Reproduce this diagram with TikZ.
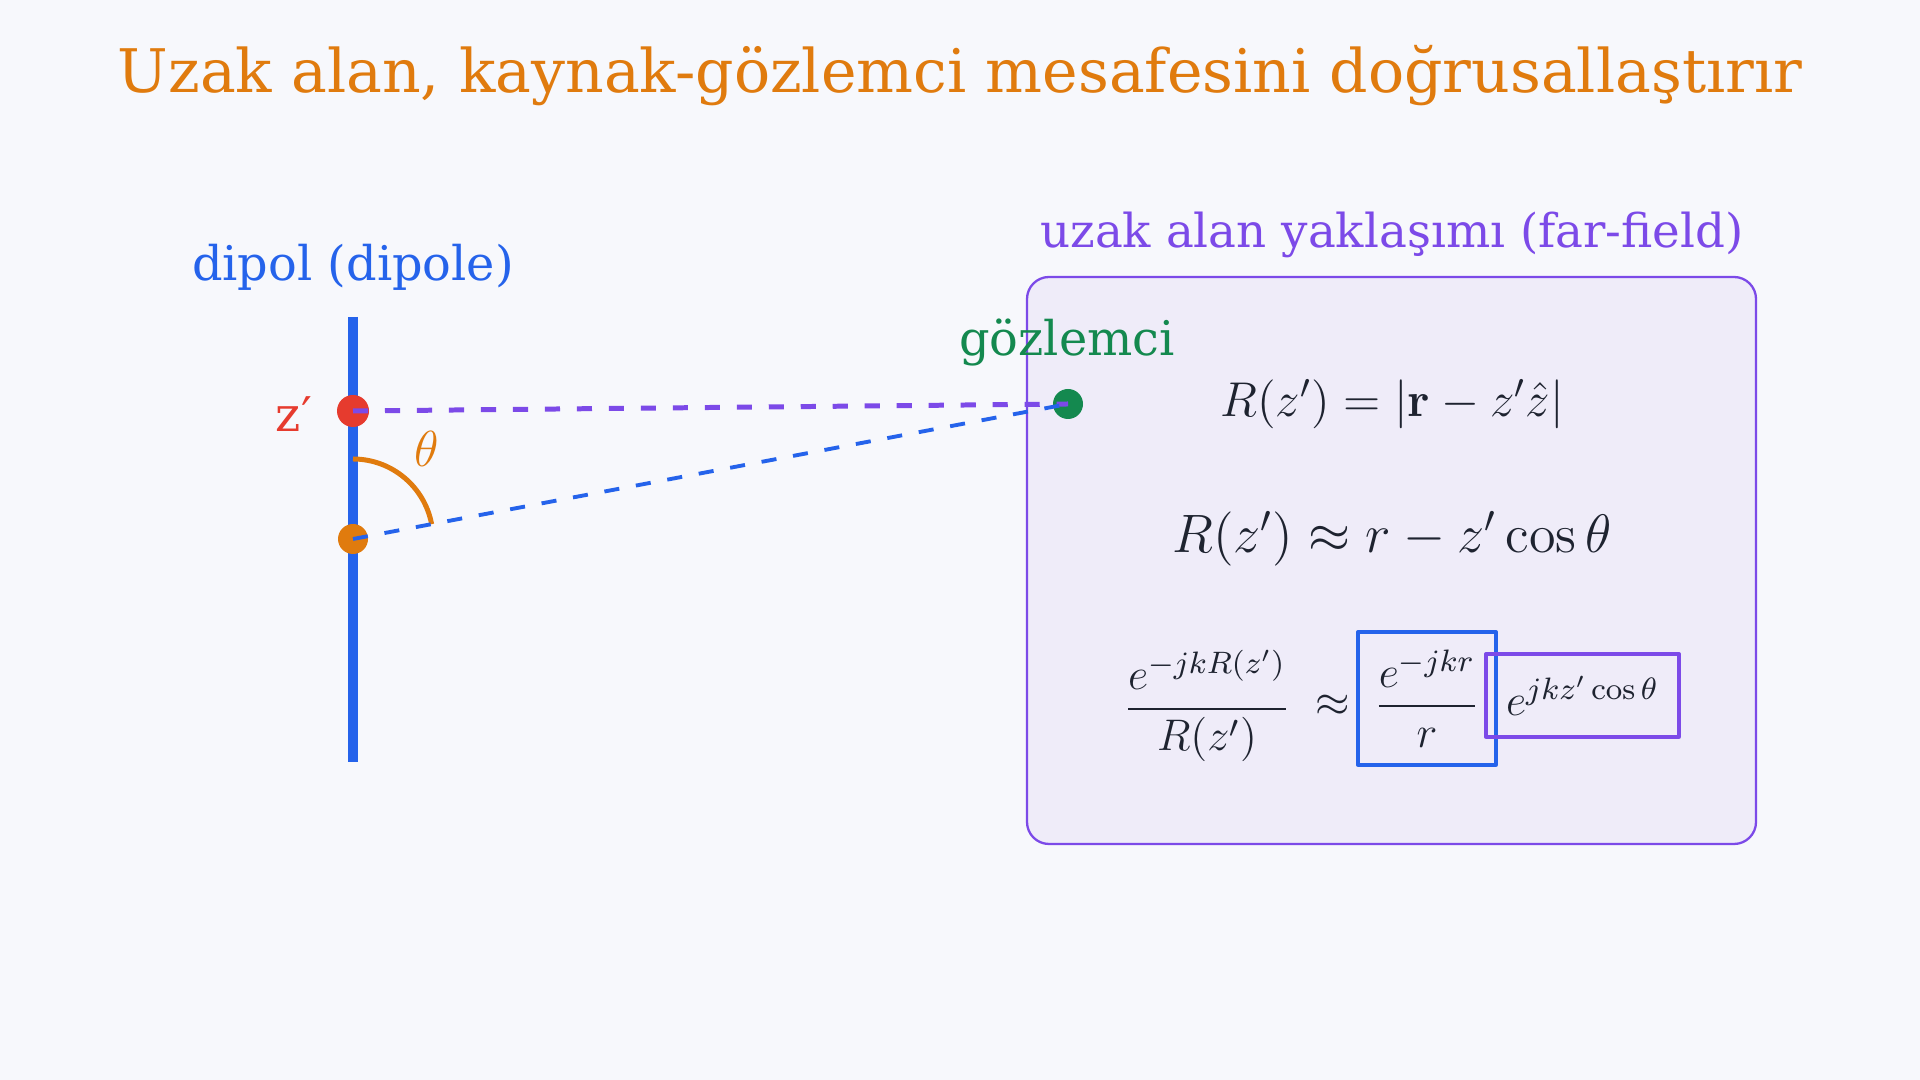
\RequirePackage{fix-cm}
\documentclass[tikz,border=0pt]{standalone}
\usepackage[no-math]{fontspec}
\setmainfont{DejaVu Serif}
\usepackage{amsmath}
\definecolor{bgC}{HTML}{F7F8FC}
\definecolor{orangeC}{HTML}{E07B0E}
\definecolor{blueC}{HTML}{2563EB}
\definecolor{redC}{HTML}{E63B2E}
\definecolor{greenC}{HTML}{14894F}
\definecolor{violetC}{HTML}{7C4AE8}
\definecolor{panelC}{HTML}{EFECF9}
\definecolor{inkC}{HTML}{1E2330}
\begin{document}
\begin{tikzpicture}[line join=round]
	\tikzset{headline/.style={text=orangeC, font=\fontsize{17.1}{20}\selectfont},
		lbl/.style={font=\fontsize{13.6}{16}\selectfont},
		dot/.style={circle, inner sep=0pt, minimum size=0.31cm},
		eq/.style={text=inkC, inner sep=0pt},
		mathbox/.style={draw, line width=0.95pt, inner sep=0pt}}
	\fill[bgC] (0,0) rectangle (19.2,10.8);
	\useasboundingbox (0,0) rectangle (19.2,10.8);
	\node[headline] (title) at (9.6,10.04) {Uzak alan, kaynak-gözlemci mesafesini doğrusallaştırır};
	% dipole side
	\node[lbl, text=blueC] (diplbl) at (3.53,8.13) {dipol (dipole)};
	\coordinate (top) at (3.53,7.63);
	\coordinate (bot) at (3.53,3.18);
	\draw[blueC, line width=2.85pt] (top)--(bot);
	\node[dot, fill=redC, minimum size=0.32cm] (src) at (3.53,6.69) {};
	\node[dot, fill=orangeC, minimum size=0.3cm] (mid) at (3.53,5.41) {};
	\node[lbl, text=redC] (zlbl) at (2.94,6.66) {z′};
	\draw[orangeC, line width=1.42pt] ([shift={(90:0.8)}]mid.center) arc[start angle=90, end angle=10.7, radius=0.8];
	\node[text=orangeC, font=\fontsize{14.4}{16}\selectfont] (th) at (4.27,6.31) {$\theta$};
	% far-field panel
	\node[draw=violetC, fill=panelC, line width=0.65pt, rounded corners=0.22cm, minimum width=7.29cm, minimum height=5.67cm] (panel) at (13.915,5.195) {};
	\node[lbl, text=violetC, font=\fontsize{13.3}{16}\selectfont] (fflbl) at (13.92,8.45) {uzak alan yaklaşımı (far-field)};
	\node[lbl, text=greenC] (obslbl) at (10.67,7.37) {gözlemci};
	\node[dot, fill=greenC, minimum size=0.3cm] (obs) at (10.68,6.76) {};
	\draw[violetC, line width=1.42pt, dash pattern=on 4.3pt off 4.8pt] (src.center)--(obs.center);
	\draw[blueC, line width=1.1pt, dash pattern=on 4.3pt off 4.8pt] (mid.center)--(obs.center);
	\node[eq, font=\fontsize{13.9}{16}\selectfont] (eqa) at (13.92,6.76) {$R(z')=|\mathbf{r}-z'\hat{z}|$};
	\node[eq, font=\fontsize{15.4}{18}\selectfont] (eqb) at (13.92,5.41) {$R(z')\approx r-z'\cos\theta$};
	\node[eq, font=\fontsize{12.6}{14}\selectfont] (lhs) at (12.07,3.74) {$\dfrac{e^{-jkR(z')}}{R(z')}$};
	\node[eq, font=\fontsize{12.6}{16}\selectfont] (apx) at (13.33,3.74) {$\approx$};
	\node[mathbox, draw=blueC, minimum width=1.38cm, minimum height=1.33cm] (bluebox) at (14.27,3.815) {};
	\node[eq, font=\fontsize{12.6}{14}\selectfont] (rhs) at (bluebox.center) {$\dfrac{e^{-jkr}}{r}$};
	\node[mathbox, draw=violetC, minimum width=1.93cm, minimum height=0.83cm] (phasebox) at (15.825,3.845) {};
	\node[eq, font=\fontsize{12.6}{14}\selectfont] (phase) at (phasebox.center) {$e^{jkz'\cos\theta}$};
\end{tikzpicture}
\end{document}
